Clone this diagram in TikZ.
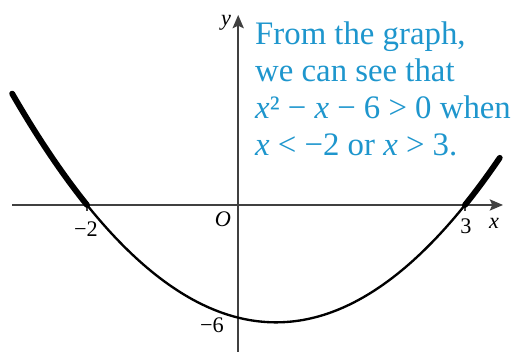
\documentclass[tikz,border=0pt]{standalone}
\usepackage{fontspec}
\setmainfont{Liberation Serif}
\usepackage{tikz}
\usetikzlibrary{arrows.meta}
\definecolor{notecyan}{RGB}{30,150,205}
\newcommand{\vx}{\textit{x}}
\tikzset{
  axis/.style={draw=black!75, line width=1.3pt,
    -{Stealth[length=0.4cm, width=0.34cm, inset=0.08cm]}},
  tickmark/.style={draw=black!75, line width=1.1pt},
  curve/.style={line width=2pt, line cap=round},
  boldpart/.style={line width=5pt},
  ticklabel/.style={font=\fontsize{19}{21}\selectfont, inner sep=0pt},
  axislabel/.style={font=\fontsize{19}{21}\selectfont\itshape, inner sep=0pt},
  note/.style={font=\fontsize{28}{31.4}\selectfont, text=notecyan,
    align=left, inner sep=0pt},
}

\begin{document}
\begin{tikzpicture}[x=2.268cm,y=0.5634cm]
\useasboundingbox (-3.151,-7.827) rectangle (3.622,10.916);
% axes
\coordinate (xstart) at (-2.992,0);
\coordinate (xend) at (3.503,0);
\coordinate (ystart) at (0,-7.827);
\coordinate (yend) at (0,10.117);
\draw[axis] (xstart) -- (xend);
\draw[axis] (ystart) -- (yend);
\node[axislabel] (xlab) at (3.384,-0.958) {x};
\node[axislabel] (ylab) at (-0.161,9.72) {y};
\node[axislabel] (olab) at (-0.201,-0.745) {O};
% roots and intercept
\foreach \r/\name in {-2/left,3/right}
  \draw[tickmark] (\r,0) coordinate (root\name) -- (\r,-0.3);
\node[ticklabel] (lab-2) at (-2.013,-1.278) {−2};
\node[ticklabel] (lab3) at (3.013,-1.118) {3};
\node[ticklabel] (lab-6) at (-0.347,-6.39) {−6};
% the parabola, thicker where it is above the axis
\draw[curve] plot[domain=-2.99:3.46, samples=120] (\x,{\x*\x-\x-6});
\draw[curve, boldpart] plot[domain=-2.99:-2, samples=30] (\x,{\x*\x-\x-6});
\draw[curve, boldpart] plot[domain=3:3.46, samples=30] (\x,{\x*\x-\x-6});
% the conclusion
\node[note, anchor=base west] (note) at (0.222,2.66)
  {From the graph,\\we can see that\\\vx² − \vx{} − 6 > 0 when\\\vx{} < −2 or \vx{} > 3.};
\end{tikzpicture}
\end{document}
